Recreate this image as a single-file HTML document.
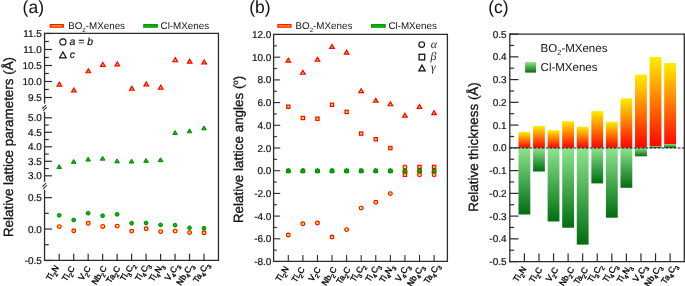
<!DOCTYPE html>
<html><head><meta charset="utf-8"><style>
html,body{margin:0;padding:0;background:#fff;}
svg{display:block;will-change:transform;}
text{text-rendering:geometricPrecision;}
</style></head><body>
<svg xmlns="http://www.w3.org/2000/svg" width="685" height="286" viewBox="0 0 685 286">
<rect width="685" height="286" fill="#fff"/>
<g fill="#111">
<text x="22.60" y="12.90" font-size="17.5" text-anchor="start" font-family='"Liberation Sans", sans-serif'  >(a)</text>
<text transform="translate(13.4,147) rotate(-90)" font-size="13.4" text-anchor="middle" stroke="#111" stroke-width="0.3" font-family='"Liberation Sans", sans-serif'>Relative lattice parameters (Å)</text>
<line x1="44.55" y1="33.40" x2="218.45" y2="33.40" stroke="#2b2b2b" stroke-width="1.3" />
<line x1="218.45" y1="32.75" x2="218.45" y2="261.00" stroke="#2b2b2b" stroke-width="1.3" />
<line x1="43.90" y1="260.35" x2="218.45" y2="260.35" stroke="#2b2b2b" stroke-width="1.3" />
<line x1="44.55" y1="32.75" x2="44.55" y2="103.60" stroke="#2b2b2b" stroke-width="1.3" />
<line x1="44.55" y1="111.60" x2="44.55" y2="181.80" stroke="#2b2b2b" stroke-width="1.3" />
<line x1="44.55" y1="189.80" x2="44.55" y2="261.00" stroke="#2b2b2b" stroke-width="1.3" />
<line x1="42.30" y1="108.50" x2="46.10" y2="105.10" stroke="#2b2b2b" stroke-width="1.1" />
<line x1="43.00" y1="110.70" x2="46.80" y2="107.30" stroke="#2b2b2b" stroke-width="1.1" />
<line x1="42.30" y1="186.60" x2="46.10" y2="183.20" stroke="#2b2b2b" stroke-width="1.1" />
<line x1="43.00" y1="188.80" x2="46.80" y2="185.40" stroke="#2b2b2b" stroke-width="1.1" />
<line x1="44.55" y1="33.50" x2="51.95" y2="33.50" stroke="#2b2b2b" stroke-width="1.2" />
<text x="41.95" y="37.00" font-size="10" text-anchor="end" stroke="#111" stroke-width="0.2" font-family='"Liberation Sans", sans-serif'>11.5</text>
<line x1="44.55" y1="41.50" x2="48.75" y2="41.50" stroke="#2b2b2b" stroke-width="1.2" />
<line x1="44.55" y1="49.50" x2="51.95" y2="49.50" stroke="#2b2b2b" stroke-width="1.2" />
<text x="41.95" y="53.00" font-size="10" text-anchor="end" stroke="#111" stroke-width="0.2" font-family='"Liberation Sans", sans-serif'>11.0</text>
<line x1="44.55" y1="57.50" x2="48.75" y2="57.50" stroke="#2b2b2b" stroke-width="1.2" />
<line x1="44.55" y1="65.50" x2="51.95" y2="65.50" stroke="#2b2b2b" stroke-width="1.2" />
<text x="41.95" y="69.00" font-size="10" text-anchor="end" stroke="#111" stroke-width="0.2" font-family='"Liberation Sans", sans-serif'>10.5</text>
<line x1="44.55" y1="73.50" x2="48.75" y2="73.50" stroke="#2b2b2b" stroke-width="1.2" />
<line x1="44.55" y1="81.50" x2="51.95" y2="81.50" stroke="#2b2b2b" stroke-width="1.2" />
<text x="41.95" y="85.00" font-size="10" text-anchor="end" stroke="#111" stroke-width="0.2" font-family='"Liberation Sans", sans-serif'>10.0</text>
<line x1="44.55" y1="89.50" x2="48.75" y2="89.50" stroke="#2b2b2b" stroke-width="1.2" />
<line x1="44.55" y1="97.50" x2="51.95" y2="97.50" stroke="#2b2b2b" stroke-width="1.2" />
<text x="41.95" y="101.00" font-size="10" text-anchor="end" stroke="#111" stroke-width="0.2" font-family='"Liberation Sans", sans-serif'>9.5</text>
<line x1="44.55" y1="117.80" x2="51.95" y2="117.80" stroke="#2b2b2b" stroke-width="1.2" />
<text x="41.95" y="121.30" font-size="10" text-anchor="end" stroke="#111" stroke-width="0.2" font-family='"Liberation Sans", sans-serif'>5.0</text>
<line x1="44.55" y1="125.05" x2="48.75" y2="125.05" stroke="#2b2b2b" stroke-width="1.2" />
<line x1="44.55" y1="132.30" x2="51.95" y2="132.30" stroke="#2b2b2b" stroke-width="1.2" />
<text x="41.95" y="135.80" font-size="10" text-anchor="end" stroke="#111" stroke-width="0.2" font-family='"Liberation Sans", sans-serif'>4.5</text>
<line x1="44.55" y1="139.55" x2="48.75" y2="139.55" stroke="#2b2b2b" stroke-width="1.2" />
<line x1="44.55" y1="146.80" x2="51.95" y2="146.80" stroke="#2b2b2b" stroke-width="1.2" />
<text x="41.95" y="150.30" font-size="10" text-anchor="end" stroke="#111" stroke-width="0.2" font-family='"Liberation Sans", sans-serif'>4.0</text>
<line x1="44.55" y1="154.05" x2="48.75" y2="154.05" stroke="#2b2b2b" stroke-width="1.2" />
<line x1="44.55" y1="161.30" x2="51.95" y2="161.30" stroke="#2b2b2b" stroke-width="1.2" />
<text x="41.95" y="164.80" font-size="10" text-anchor="end" stroke="#111" stroke-width="0.2" font-family='"Liberation Sans", sans-serif'>3.5</text>
<line x1="44.55" y1="168.55" x2="48.75" y2="168.55" stroke="#2b2b2b" stroke-width="1.2" />
<line x1="44.55" y1="175.80" x2="51.95" y2="175.80" stroke="#2b2b2b" stroke-width="1.2" />
<text x="41.95" y="179.30" font-size="10" text-anchor="end" stroke="#111" stroke-width="0.2" font-family='"Liberation Sans", sans-serif'>3.0</text>
<line x1="44.55" y1="197.60" x2="51.95" y2="197.60" stroke="#2b2b2b" stroke-width="1.2" />
<text x="41.95" y="201.10" font-size="10" text-anchor="end" stroke="#111" stroke-width="0.2" font-family='"Liberation Sans", sans-serif'>0.5</text>
<line x1="44.55" y1="213.32" x2="48.75" y2="213.32" stroke="#2b2b2b" stroke-width="1.2" />
<line x1="44.55" y1="229.05" x2="51.95" y2="229.05" stroke="#2b2b2b" stroke-width="1.2" />
<text x="41.95" y="232.55" font-size="10" text-anchor="end" stroke="#111" stroke-width="0.2" font-family='"Liberation Sans", sans-serif'>0.0</text>
<line x1="44.55" y1="244.77" x2="48.75" y2="244.77" stroke="#2b2b2b" stroke-width="1.2" />
<line x1="44.55" y1="260.50" x2="51.95" y2="260.50" stroke="#2b2b2b" stroke-width="1.2" />
<text x="41.95" y="264.00" font-size="10" text-anchor="end" stroke="#111" stroke-width="0.2" font-family='"Liberation Sans", sans-serif'>-0.5</text>
<line x1="59.20" y1="260.35" x2="59.20" y2="253.75" stroke="#2b2b2b" stroke-width="1.2" />
<line x1="73.68" y1="260.35" x2="73.68" y2="253.75" stroke="#2b2b2b" stroke-width="1.2" />
<line x1="88.16" y1="260.35" x2="88.16" y2="253.75" stroke="#2b2b2b" stroke-width="1.2" />
<line x1="102.64" y1="260.35" x2="102.64" y2="253.75" stroke="#2b2b2b" stroke-width="1.2" />
<line x1="117.12" y1="260.35" x2="117.12" y2="253.75" stroke="#2b2b2b" stroke-width="1.2" />
<line x1="131.60" y1="260.35" x2="131.60" y2="253.75" stroke="#2b2b2b" stroke-width="1.2" />
<line x1="146.08" y1="260.35" x2="146.08" y2="253.75" stroke="#2b2b2b" stroke-width="1.2" />
<line x1="160.56" y1="260.35" x2="160.56" y2="253.75" stroke="#2b2b2b" stroke-width="1.2" />
<line x1="175.04" y1="260.35" x2="175.04" y2="253.75" stroke="#2b2b2b" stroke-width="1.2" />
<line x1="189.52" y1="260.35" x2="189.52" y2="253.75" stroke="#2b2b2b" stroke-width="1.2" />
<line x1="204.00" y1="260.35" x2="204.00" y2="253.75" stroke="#2b2b2b" stroke-width="1.2" />
<text transform="translate(59.30,267.60) rotate(-57)" font-size="8.5" text-anchor="end" fill="#000" stroke="#000" stroke-width="0.3" font-family='"Liberation Sans", sans-serif'>Ti<tspan font-size="6.12" dy="2.72">2</tspan><tspan dy="-2.72">N</tspan></text>
<text transform="translate(75.18,268.30) rotate(-57)" font-size="8.5" text-anchor="end" fill="#000" stroke="#000" stroke-width="0.3" font-family='"Liberation Sans", sans-serif'>Ti<tspan font-size="6.12" dy="2.72">2</tspan><tspan dy="-2.72">C</tspan></text>
<text transform="translate(91.11,268.30) rotate(-57)" font-size="8.5" text-anchor="end" fill="#000" stroke="#000" stroke-width="0.3" font-family='"Liberation Sans", sans-serif'>V<tspan font-size="6.12" dy="2.72">2</tspan><tspan dy="-2.72">C</tspan></text>
<text transform="translate(107.09,268.20) rotate(-57)" font-size="8.5" text-anchor="end" fill="#000" stroke="#000" stroke-width="0.3" font-family='"Liberation Sans", sans-serif'>Nb<tspan font-size="6.12" dy="2.72">2</tspan><tspan dy="-2.72">C</tspan></text>
<text transform="translate(120.67,268.30) rotate(-57)" font-size="8.5" text-anchor="end" fill="#000" stroke="#000" stroke-width="0.3" font-family='"Liberation Sans", sans-serif'>Ta<tspan font-size="6.12" dy="2.72">2</tspan><tspan dy="-2.72">C</tspan></text>
<text transform="translate(135.20,265.10) rotate(-57)" font-size="8.5" text-anchor="end" fill="#000" stroke="#000" stroke-width="0.3" font-family='"Liberation Sans", sans-serif'>Ti<tspan font-size="6.12" dy="2.72">3</tspan><tspan dy="-2.72">C</tspan><tspan font-size="6.12" dy="2.72">2</tspan></text>
<text transform="translate(150.13,265.10) rotate(-57)" font-size="8.5" text-anchor="end" fill="#000" stroke="#000" stroke-width="0.3" font-family='"Liberation Sans", sans-serif'>Ti<tspan font-size="6.12" dy="2.72">4</tspan><tspan dy="-2.72">C</tspan><tspan font-size="6.12" dy="2.72">3</tspan></text>
<text transform="translate(164.11,265.80) rotate(-57)" font-size="8.5" text-anchor="end" fill="#000" stroke="#000" stroke-width="0.3" font-family='"Liberation Sans", sans-serif'>Ti<tspan font-size="6.12" dy="2.72">4</tspan><tspan dy="-2.72">N</tspan><tspan font-size="6.12" dy="2.72">3</tspan></text>
<text transform="translate(179.49,265.65) rotate(-57)" font-size="8.5" text-anchor="end" fill="#000" stroke="#000" stroke-width="0.3" font-family='"Liberation Sans", sans-serif'>V<tspan font-size="6.12" dy="2.72">4</tspan><tspan dy="-2.72">C</tspan><tspan font-size="6.12" dy="2.72">3</tspan></text>
<text transform="translate(193.82,265.95) rotate(-57)" font-size="8.5" text-anchor="end" fill="#000" stroke="#000" stroke-width="0.3" font-family='"Liberation Sans", sans-serif'>Nb<tspan font-size="6.12" dy="2.72">4</tspan><tspan dy="-2.72">C</tspan><tspan font-size="6.12" dy="2.72">3</tspan></text>
<text transform="translate(209.45,264.85) rotate(-57)" font-size="8.5" text-anchor="end" fill="#000" stroke="#000" stroke-width="0.3" font-family='"Liberation Sans", sans-serif'>Ta<tspan font-size="6.12" dy="2.72">4</tspan><tspan dy="-2.72">C</tspan><tspan font-size="6.12" dy="2.72">3</tspan></text>
<rect x="50.20" y="24.6" width="13.2" height="2.6" fill="#ff9900" stroke="#ff0000" stroke-width="1"/>
<text x="68.20" y="28.90" font-size="9.8" text-anchor="start" font-family='"Liberation Sans", sans-serif'  >BO<tspan font-size="6.2" dy="2.6">2</tspan><tspan dy="-2.6">-MXenes</tspan></text>
<rect x="143.70" y="24.6" width="13.6" height="2.6" fill="#00c000" stroke="#008a00" stroke-width="1"/>
<text x="160.60" y="28.90" font-size="9.8" text-anchor="start" font-family='"Liberation Sans", sans-serif'  >Cl-MXenes</text>
<circle cx="62.90" cy="41.90" r="3.05" fill="none" stroke="#111" stroke-width="1.1"/>
<text x="69.60" y="44.70" font-size="10.4" text-anchor="start" font-family='"Liberation Sans", sans-serif' font-style="italic" stroke="#111" stroke-width="0.2" >a = b</text>
<polygon points="62.90,51.90 66.20,57.90 59.60,57.90" fill="none" stroke="#111" stroke-width="1.15" stroke-linejoin="miter"/>
<text x="69.80" y="58.20" font-size="10.4" text-anchor="start" font-family='"Liberation Sans", sans-serif' font-style="italic" stroke="#111" stroke-width="0.2" >c</text>
<polygon points="59.40,82.25 61.70,86.15 57.10,86.15" fill="#ffc800" stroke="#ff0000" stroke-width="1.2" stroke-linejoin="miter"/>
<polygon points="73.88,88.05 76.18,91.95 71.58,91.95" fill="#ffc800" stroke="#ff0000" stroke-width="1.2" stroke-linejoin="miter"/>
<polygon points="88.36,68.85 90.66,72.75 86.06,72.75" fill="#ffc800" stroke="#ff0000" stroke-width="1.2" stroke-linejoin="miter"/>
<polygon points="102.84,62.45 105.14,66.35 100.54,66.35" fill="#ffc800" stroke="#ff0000" stroke-width="1.2" stroke-linejoin="miter"/>
<polygon points="117.32,62.05 119.62,65.95 115.02,65.95" fill="#ffc800" stroke="#ff0000" stroke-width="1.2" stroke-linejoin="miter"/>
<polygon points="131.80,86.35 134.10,90.25 129.50,90.25" fill="#ffc800" stroke="#ff0000" stroke-width="1.2" stroke-linejoin="miter"/>
<polygon points="146.28,81.95 148.58,85.85 143.98,85.85" fill="#ffc800" stroke="#ff0000" stroke-width="1.2" stroke-linejoin="miter"/>
<polygon points="160.76,85.15 163.06,89.05 158.46,89.05" fill="#ffc800" stroke="#ff0000" stroke-width="1.2" stroke-linejoin="miter"/>
<polygon points="175.24,57.65 177.54,61.55 172.94,61.55" fill="#ffc800" stroke="#ff0000" stroke-width="1.2" stroke-linejoin="miter"/>
<polygon points="189.72,59.25 192.02,63.15 187.42,63.15" fill="#ffc800" stroke="#ff0000" stroke-width="1.2" stroke-linejoin="miter"/>
<polygon points="204.20,59.95 206.50,63.85 201.90,63.85" fill="#ffc800" stroke="#ff0000" stroke-width="1.2" stroke-linejoin="miter"/>
<polygon points="59.20,164.55 61.50,168.45 56.90,168.45" fill="#00c000" stroke="#008a00" stroke-width="1.0" stroke-linejoin="miter"/>
<polygon points="73.68,159.45 75.98,163.35 71.38,163.35" fill="#00c000" stroke="#008a00" stroke-width="1.0" stroke-linejoin="miter"/>
<polygon points="88.16,157.15 90.46,161.05 85.86,161.05" fill="#00c000" stroke="#008a00" stroke-width="1.0" stroke-linejoin="miter"/>
<polygon points="102.64,156.25 104.94,160.15 100.34,160.15" fill="#00c000" stroke="#008a00" stroke-width="1.0" stroke-linejoin="miter"/>
<polygon points="117.12,158.95 119.42,162.85 114.82,162.85" fill="#00c000" stroke="#008a00" stroke-width="1.0" stroke-linejoin="miter"/>
<polygon points="131.60,159.15 133.90,163.05 129.30,163.05" fill="#00c000" stroke="#008a00" stroke-width="1.0" stroke-linejoin="miter"/>
<polygon points="146.08,158.45 148.38,162.35 143.78,162.35" fill="#00c000" stroke="#008a00" stroke-width="1.0" stroke-linejoin="miter"/>
<polygon points="160.56,157.75 162.86,161.65 158.26,161.65" fill="#00c000" stroke="#008a00" stroke-width="1.0" stroke-linejoin="miter"/>
<polygon points="175.04,130.55 177.34,134.45 172.74,134.45" fill="#00c000" stroke="#008a00" stroke-width="1.0" stroke-linejoin="miter"/>
<polygon points="189.52,128.85 191.82,132.75 187.22,132.75" fill="#00c000" stroke="#008a00" stroke-width="1.0" stroke-linejoin="miter"/>
<polygon points="204.00,125.95 206.30,129.85 201.70,129.85" fill="#00c000" stroke="#008a00" stroke-width="1.0" stroke-linejoin="miter"/>
<circle cx="59.20" cy="215.30" r="1.9" fill="#00c000" stroke="#008a00" stroke-width="1.0"/>
<circle cx="73.68" cy="220.00" r="1.9" fill="#00c000" stroke="#008a00" stroke-width="1.0"/>
<circle cx="88.16" cy="213.20" r="1.9" fill="#00c000" stroke="#008a00" stroke-width="1.0"/>
<circle cx="102.64" cy="215.70" r="1.9" fill="#00c000" stroke="#008a00" stroke-width="1.0"/>
<circle cx="117.12" cy="214.30" r="1.9" fill="#00c000" stroke="#008a00" stroke-width="1.0"/>
<circle cx="131.60" cy="223.30" r="1.9" fill="#00c000" stroke="#008a00" stroke-width="1.0"/>
<circle cx="146.08" cy="223.00" r="1.9" fill="#00c000" stroke="#008a00" stroke-width="1.0"/>
<circle cx="160.56" cy="224.90" r="1.9" fill="#00c000" stroke="#008a00" stroke-width="1.0"/>
<circle cx="175.04" cy="225.20" r="1.9" fill="#00c000" stroke="#008a00" stroke-width="1.0"/>
<circle cx="189.52" cy="227.80" r="1.9" fill="#00c000" stroke="#008a00" stroke-width="1.0"/>
<circle cx="204.00" cy="228.20" r="1.9" fill="#00c000" stroke="#008a00" stroke-width="1.0"/>
<circle cx="59.30" cy="226.60" r="1.9" fill="#ffee00" stroke="#ff0000" stroke-width="1.15"/>
<circle cx="73.78" cy="230.70" r="1.9" fill="#ffee00" stroke="#ff0000" stroke-width="1.15"/>
<circle cx="88.26" cy="223.30" r="1.9" fill="#ffee00" stroke="#ff0000" stroke-width="1.15"/>
<circle cx="102.74" cy="226.40" r="1.9" fill="#ffee00" stroke="#ff0000" stroke-width="1.15"/>
<circle cx="117.22" cy="226.10" r="1.9" fill="#ffee00" stroke="#ff0000" stroke-width="1.15"/>
<circle cx="131.70" cy="231.10" r="1.9" fill="#ffee00" stroke="#ff0000" stroke-width="1.15"/>
<circle cx="146.18" cy="228.80" r="1.9" fill="#ffee00" stroke="#ff0000" stroke-width="1.15"/>
<circle cx="160.66" cy="231.60" r="1.9" fill="#ffee00" stroke="#ff0000" stroke-width="1.15"/>
<circle cx="175.14" cy="231.10" r="1.9" fill="#ffee00" stroke="#ff0000" stroke-width="1.15"/>
<circle cx="189.62" cy="232.60" r="1.9" fill="#ffee00" stroke="#ff0000" stroke-width="1.15"/>
<circle cx="204.10" cy="232.70" r="1.9" fill="#ffee00" stroke="#ff0000" stroke-width="1.15"/>
<text x="249.30" y="12.90" font-size="17.5" text-anchor="start" font-family='"Liberation Sans", sans-serif'  >(b)</text>
<text transform="translate(242.6,149.4) rotate(-90)" font-size="13.4" text-anchor="middle" stroke="#111" stroke-width="0.3" font-family='"Liberation Sans", sans-serif'>Relative lattice angles (<tspan font-size="8" dy="-4.5">o</tspan><tspan dy="4.5">)</tspan></text>
<line x1="273.60" y1="34.40" x2="447.40" y2="34.40" stroke="#2b2b2b" stroke-width="1.3" />
<line x1="447.40" y1="33.75" x2="447.40" y2="261.95" stroke="#2b2b2b" stroke-width="1.3" />
<line x1="272.95" y1="261.30" x2="447.40" y2="261.30" stroke="#2b2b2b" stroke-width="1.3" />
<line x1="273.60" y1="33.75" x2="273.60" y2="261.95" stroke="#2b2b2b" stroke-width="1.3" />
<line x1="273.60" y1="34.50" x2="280.20" y2="34.50" stroke="#2b2b2b" stroke-width="1.1" />
<text x="271.40" y="38.00" font-size="10" text-anchor="end" stroke="#111" stroke-width="0.2" font-family='"Liberation Sans", sans-serif'>12.0</text>
<line x1="273.60" y1="45.85" x2="276.90" y2="45.85" stroke="#2b2b2b" stroke-width="1.1" />
<line x1="273.60" y1="57.20" x2="280.20" y2="57.20" stroke="#2b2b2b" stroke-width="1.1" />
<text x="271.40" y="60.70" font-size="10" text-anchor="end" stroke="#111" stroke-width="0.2" font-family='"Liberation Sans", sans-serif'>10.0</text>
<line x1="273.60" y1="68.55" x2="276.90" y2="68.55" stroke="#2b2b2b" stroke-width="1.1" />
<line x1="273.60" y1="79.90" x2="280.20" y2="79.90" stroke="#2b2b2b" stroke-width="1.1" />
<text x="271.40" y="83.40" font-size="10" text-anchor="end" stroke="#111" stroke-width="0.2" font-family='"Liberation Sans", sans-serif'>8.0</text>
<line x1="273.60" y1="91.25" x2="276.90" y2="91.25" stroke="#2b2b2b" stroke-width="1.1" />
<line x1="273.60" y1="102.60" x2="280.20" y2="102.60" stroke="#2b2b2b" stroke-width="1.1" />
<text x="271.40" y="106.10" font-size="10" text-anchor="end" stroke="#111" stroke-width="0.2" font-family='"Liberation Sans", sans-serif'>6.0</text>
<line x1="273.60" y1="113.95" x2="276.90" y2="113.95" stroke="#2b2b2b" stroke-width="1.1" />
<line x1="273.60" y1="125.30" x2="280.20" y2="125.30" stroke="#2b2b2b" stroke-width="1.1" />
<text x="271.40" y="128.80" font-size="10" text-anchor="end" stroke="#111" stroke-width="0.2" font-family='"Liberation Sans", sans-serif'>4.0</text>
<line x1="273.60" y1="136.65" x2="276.90" y2="136.65" stroke="#2b2b2b" stroke-width="1.1" />
<line x1="273.60" y1="148.00" x2="280.20" y2="148.00" stroke="#2b2b2b" stroke-width="1.1" />
<text x="271.40" y="151.50" font-size="10" text-anchor="end" stroke="#111" stroke-width="0.2" font-family='"Liberation Sans", sans-serif'>2.0</text>
<line x1="273.60" y1="159.35" x2="276.90" y2="159.35" stroke="#2b2b2b" stroke-width="1.1" />
<line x1="273.60" y1="170.70" x2="280.20" y2="170.70" stroke="#2b2b2b" stroke-width="1.1" />
<text x="271.40" y="174.20" font-size="10" text-anchor="end" stroke="#111" stroke-width="0.2" font-family='"Liberation Sans", sans-serif'>0.0</text>
<line x1="273.60" y1="182.05" x2="276.90" y2="182.05" stroke="#2b2b2b" stroke-width="1.1" />
<line x1="273.60" y1="193.40" x2="280.20" y2="193.40" stroke="#2b2b2b" stroke-width="1.1" />
<text x="271.40" y="196.90" font-size="10" text-anchor="end" stroke="#111" stroke-width="0.2" font-family='"Liberation Sans", sans-serif'>-2.0</text>
<line x1="273.60" y1="204.75" x2="276.90" y2="204.75" stroke="#2b2b2b" stroke-width="1.1" />
<line x1="273.60" y1="216.10" x2="280.20" y2="216.10" stroke="#2b2b2b" stroke-width="1.1" />
<text x="271.40" y="219.60" font-size="10" text-anchor="end" stroke="#111" stroke-width="0.2" font-family='"Liberation Sans", sans-serif'>-4.0</text>
<line x1="273.60" y1="227.45" x2="276.90" y2="227.45" stroke="#2b2b2b" stroke-width="1.1" />
<line x1="273.60" y1="238.80" x2="280.20" y2="238.80" stroke="#2b2b2b" stroke-width="1.1" />
<text x="271.40" y="242.30" font-size="10" text-anchor="end" stroke="#111" stroke-width="0.2" font-family='"Liberation Sans", sans-serif'>-6.0</text>
<line x1="273.60" y1="250.15" x2="276.90" y2="250.15" stroke="#2b2b2b" stroke-width="1.1" />
<line x1="273.60" y1="261.50" x2="280.20" y2="261.50" stroke="#2b2b2b" stroke-width="1.1" />
<text x="271.40" y="265.00" font-size="10" text-anchor="end" stroke="#111" stroke-width="0.2" font-family='"Liberation Sans", sans-serif'>-8.0</text>
<line x1="288.30" y1="261.30" x2="288.30" y2="255.00" stroke="#2b2b2b" stroke-width="1.1" />
<line x1="302.88" y1="261.30" x2="302.88" y2="255.00" stroke="#2b2b2b" stroke-width="1.1" />
<line x1="317.46" y1="261.30" x2="317.46" y2="255.00" stroke="#2b2b2b" stroke-width="1.1" />
<line x1="332.04" y1="261.30" x2="332.04" y2="255.00" stroke="#2b2b2b" stroke-width="1.1" />
<line x1="346.62" y1="261.30" x2="346.62" y2="255.00" stroke="#2b2b2b" stroke-width="1.1" />
<line x1="361.20" y1="261.30" x2="361.20" y2="255.00" stroke="#2b2b2b" stroke-width="1.1" />
<line x1="375.78" y1="261.30" x2="375.78" y2="255.00" stroke="#2b2b2b" stroke-width="1.1" />
<line x1="390.36" y1="261.30" x2="390.36" y2="255.00" stroke="#2b2b2b" stroke-width="1.1" />
<line x1="404.94" y1="261.30" x2="404.94" y2="255.00" stroke="#2b2b2b" stroke-width="1.1" />
<line x1="419.52" y1="261.30" x2="419.52" y2="255.00" stroke="#2b2b2b" stroke-width="1.1" />
<line x1="434.10" y1="261.30" x2="434.10" y2="255.00" stroke="#2b2b2b" stroke-width="1.1" />
<text transform="translate(289.00,268.55) rotate(-57)" font-size="8.5" text-anchor="end" fill="#000" stroke="#000" stroke-width="0.3" font-family='"Liberation Sans", sans-serif'>Ti<tspan font-size="6.12" dy="2.72">2</tspan><tspan dy="-2.72">N</tspan></text>
<text transform="translate(304.98,269.25) rotate(-57)" font-size="8.5" text-anchor="end" fill="#000" stroke="#000" stroke-width="0.3" font-family='"Liberation Sans", sans-serif'>Ti<tspan font-size="6.12" dy="2.72">2</tspan><tspan dy="-2.72">C</tspan></text>
<text transform="translate(321.01,269.25) rotate(-57)" font-size="8.5" text-anchor="end" fill="#000" stroke="#000" stroke-width="0.3" font-family='"Liberation Sans", sans-serif'>V<tspan font-size="6.12" dy="2.72">2</tspan><tspan dy="-2.72">C</tspan></text>
<text transform="translate(337.09,269.15) rotate(-57)" font-size="8.5" text-anchor="end" fill="#000" stroke="#000" stroke-width="0.3" font-family='"Liberation Sans", sans-serif'>Nb<tspan font-size="6.12" dy="2.72">2</tspan><tspan dy="-2.72">C</tspan></text>
<text transform="translate(350.77,269.25) rotate(-57)" font-size="8.5" text-anchor="end" fill="#000" stroke="#000" stroke-width="0.3" font-family='"Liberation Sans", sans-serif'>Ta<tspan font-size="6.12" dy="2.72">2</tspan><tspan dy="-2.72">C</tspan></text>
<text transform="translate(365.40,266.05) rotate(-57)" font-size="8.5" text-anchor="end" fill="#000" stroke="#000" stroke-width="0.3" font-family='"Liberation Sans", sans-serif'>Ti<tspan font-size="6.12" dy="2.72">3</tspan><tspan dy="-2.72">C</tspan><tspan font-size="6.12" dy="2.72">2</tspan></text>
<text transform="translate(380.43,266.05) rotate(-57)" font-size="8.5" text-anchor="end" fill="#000" stroke="#000" stroke-width="0.3" font-family='"Liberation Sans", sans-serif'>Ti<tspan font-size="6.12" dy="2.72">4</tspan><tspan dy="-2.72">C</tspan><tspan font-size="6.12" dy="2.72">3</tspan></text>
<text transform="translate(394.51,266.75) rotate(-57)" font-size="8.5" text-anchor="end" fill="#000" stroke="#000" stroke-width="0.3" font-family='"Liberation Sans", sans-serif'>Ti<tspan font-size="6.12" dy="2.72">4</tspan><tspan dy="-2.72">N</tspan><tspan font-size="6.12" dy="2.72">3</tspan></text>
<text transform="translate(409.99,266.60) rotate(-57)" font-size="8.5" text-anchor="end" fill="#000" stroke="#000" stroke-width="0.3" font-family='"Liberation Sans", sans-serif'>V<tspan font-size="6.12" dy="2.72">4</tspan><tspan dy="-2.72">C</tspan><tspan font-size="6.12" dy="2.72">3</tspan></text>
<text transform="translate(424.42,266.90) rotate(-57)" font-size="8.5" text-anchor="end" fill="#000" stroke="#000" stroke-width="0.3" font-family='"Liberation Sans", sans-serif'>Nb<tspan font-size="6.12" dy="2.72">4</tspan><tspan dy="-2.72">C</tspan><tspan font-size="6.12" dy="2.72">3</tspan></text>
<text transform="translate(440.15,265.80) rotate(-57)" font-size="8.5" text-anchor="end" fill="#000" stroke="#000" stroke-width="0.3" font-family='"Liberation Sans", sans-serif'>Ta<tspan font-size="6.12" dy="2.72">4</tspan><tspan dy="-2.72">C</tspan><tspan font-size="6.12" dy="2.72">3</tspan></text>
<rect x="277.80" y="24.6" width="13.2" height="2.6" fill="#ff9900" stroke="#ff0000" stroke-width="1"/>
<text x="295.50" y="28.90" font-size="9.8" text-anchor="start" font-family='"Liberation Sans", sans-serif'  >BO<tspan font-size="6.2" dy="2.6">2</tspan><tspan dy="-2.6">-MXenes</tspan></text>
<rect x="371.60" y="24.6" width="13.6" height="2.6" fill="#00c000" stroke="#008a00" stroke-width="1"/>
<text x="388.40" y="28.90" font-size="9.8" text-anchor="start" font-family='"Liberation Sans", sans-serif'  >Cl-MXenes</text>
<circle cx="421.70" cy="44.60" r="2.85" fill="none" stroke="#111" stroke-width="1.2"/>
<rect x="419.10" y="54.30" width="5.6" height="5.6" fill="none" stroke="#111" stroke-width="1.25"/>
<polygon points="422.00,65.15 425.10,70.85 418.90,70.85" fill="none" stroke="#111" stroke-width="1.25" stroke-linejoin="miter"/>
<text x="430.80" y="48.00" font-size="11.8" text-anchor="start" font-family='"Liberation Serif", serif' font-style="italic" fill="#222" >α</text>
<text x="430.60" y="59.80" font-size="11.8" text-anchor="start" font-family='"Liberation Serif", serif' font-style="italic" fill="#222" >β</text>
<text x="430.90" y="71.20" font-size="11.8" text-anchor="start" font-family='"Liberation Serif", serif' font-style="italic" fill="#222" >γ</text>
<rect x="286.60" y="169.20" width="3.4" height="3.4" fill="#00c000" stroke="#008a00" stroke-width="1.0"/>
<circle cx="288.30" cy="171.10" r="1.85" fill="#00c000" stroke="#008a00" stroke-width="1.0"/>
<polygon points="288.30,168.25 290.60,172.15 286.00,172.15" fill="#00c000" stroke="#008a00" stroke-width="1.0" stroke-linejoin="miter"/>
<rect x="301.18" y="169.20" width="3.4" height="3.4" fill="#00c000" stroke="#008a00" stroke-width="1.0"/>
<circle cx="302.88" cy="171.10" r="1.85" fill="#00c000" stroke="#008a00" stroke-width="1.0"/>
<polygon points="302.88,168.25 305.18,172.15 300.58,172.15" fill="#00c000" stroke="#008a00" stroke-width="1.0" stroke-linejoin="miter"/>
<rect x="315.76" y="169.20" width="3.4" height="3.4" fill="#00c000" stroke="#008a00" stroke-width="1.0"/>
<circle cx="317.46" cy="171.10" r="1.85" fill="#00c000" stroke="#008a00" stroke-width="1.0"/>
<polygon points="317.46,168.25 319.76,172.15 315.16,172.15" fill="#00c000" stroke="#008a00" stroke-width="1.0" stroke-linejoin="miter"/>
<rect x="330.34" y="169.20" width="3.4" height="3.4" fill="#00c000" stroke="#008a00" stroke-width="1.0"/>
<circle cx="332.04" cy="171.10" r="1.85" fill="#00c000" stroke="#008a00" stroke-width="1.0"/>
<polygon points="332.04,168.25 334.34,172.15 329.74,172.15" fill="#00c000" stroke="#008a00" stroke-width="1.0" stroke-linejoin="miter"/>
<rect x="344.92" y="169.20" width="3.4" height="3.4" fill="#00c000" stroke="#008a00" stroke-width="1.0"/>
<circle cx="346.62" cy="171.10" r="1.85" fill="#00c000" stroke="#008a00" stroke-width="1.0"/>
<polygon points="346.62,168.25 348.92,172.15 344.32,172.15" fill="#00c000" stroke="#008a00" stroke-width="1.0" stroke-linejoin="miter"/>
<rect x="359.50" y="169.20" width="3.4" height="3.4" fill="#00c000" stroke="#008a00" stroke-width="1.0"/>
<circle cx="361.20" cy="171.10" r="1.85" fill="#00c000" stroke="#008a00" stroke-width="1.0"/>
<polygon points="361.20,168.25 363.50,172.15 358.90,172.15" fill="#00c000" stroke="#008a00" stroke-width="1.0" stroke-linejoin="miter"/>
<rect x="374.08" y="169.20" width="3.4" height="3.4" fill="#00c000" stroke="#008a00" stroke-width="1.0"/>
<circle cx="375.78" cy="171.10" r="1.85" fill="#00c000" stroke="#008a00" stroke-width="1.0"/>
<polygon points="375.78,168.25 378.08,172.15 373.48,172.15" fill="#00c000" stroke="#008a00" stroke-width="1.0" stroke-linejoin="miter"/>
<rect x="388.66" y="169.20" width="3.4" height="3.4" fill="#00c000" stroke="#008a00" stroke-width="1.0"/>
<circle cx="390.36" cy="171.10" r="1.85" fill="#00c000" stroke="#008a00" stroke-width="1.0"/>
<polygon points="390.36,168.25 392.66,172.15 388.06,172.15" fill="#00c000" stroke="#008a00" stroke-width="1.0" stroke-linejoin="miter"/>
<rect x="403.24" y="169.20" width="3.4" height="3.4" fill="#00c000" stroke="#008a00" stroke-width="1.0"/>
<circle cx="404.94" cy="171.10" r="1.85" fill="#00c000" stroke="#008a00" stroke-width="1.0"/>
<polygon points="404.94,168.25 407.24,172.15 402.64,172.15" fill="#00c000" stroke="#008a00" stroke-width="1.0" stroke-linejoin="miter"/>
<rect x="417.82" y="169.20" width="3.4" height="3.4" fill="#00c000" stroke="#008a00" stroke-width="1.0"/>
<circle cx="419.52" cy="171.10" r="1.85" fill="#00c000" stroke="#008a00" stroke-width="1.0"/>
<polygon points="419.52,168.25 421.82,172.15 417.22,172.15" fill="#00c000" stroke="#008a00" stroke-width="1.0" stroke-linejoin="miter"/>
<rect x="432.40" y="169.20" width="3.4" height="3.4" fill="#00c000" stroke="#008a00" stroke-width="1.0"/>
<circle cx="434.10" cy="171.10" r="1.85" fill="#00c000" stroke="#008a00" stroke-width="1.0"/>
<polygon points="434.10,168.25 436.40,172.15 431.80,172.15" fill="#00c000" stroke="#008a00" stroke-width="1.0" stroke-linejoin="miter"/>
<polygon points="288.30,58.25 290.60,62.15 286.00,62.15" fill="#ffc800" stroke="#ff0000" stroke-width="1.2" stroke-linejoin="miter"/>
<polygon points="302.88,70.35 305.18,74.25 300.58,74.25" fill="#ffc800" stroke="#ff0000" stroke-width="1.2" stroke-linejoin="miter"/>
<polygon points="317.46,57.35 319.76,61.25 315.16,61.25" fill="#ffc800" stroke="#ff0000" stroke-width="1.2" stroke-linejoin="miter"/>
<polygon points="332.04,44.55 334.34,48.45 329.74,48.45" fill="#ffc800" stroke="#ff0000" stroke-width="1.2" stroke-linejoin="miter"/>
<polygon points="346.62,50.25 348.92,54.15 344.32,54.15" fill="#ffc800" stroke="#ff0000" stroke-width="1.2" stroke-linejoin="miter"/>
<polygon points="361.20,88.75 363.50,92.65 358.90,92.65" fill="#ffc800" stroke="#ff0000" stroke-width="1.2" stroke-linejoin="miter"/>
<polygon points="375.78,98.35 378.08,102.25 373.48,102.25" fill="#ffc800" stroke="#ff0000" stroke-width="1.2" stroke-linejoin="miter"/>
<polygon points="390.36,101.85 392.66,105.75 388.06,105.75" fill="#ffc800" stroke="#ff0000" stroke-width="1.2" stroke-linejoin="miter"/>
<polygon points="404.94,113.25 407.24,117.15 402.64,117.15" fill="#ffc800" stroke="#ff0000" stroke-width="1.2" stroke-linejoin="miter"/>
<polygon points="419.52,104.45 421.82,108.35 417.22,108.35" fill="#ffc800" stroke="#ff0000" stroke-width="1.2" stroke-linejoin="miter"/>
<polygon points="434.10,110.75 436.40,114.65 431.80,114.65" fill="#ffc800" stroke="#ff0000" stroke-width="1.2" stroke-linejoin="miter"/>
<rect x="286.65" y="105.05" width="3.3" height="3.3" fill="#ffdd00" stroke="#ff0000" stroke-width="1.15"/>
<rect x="301.23" y="116.35" width="3.3" height="3.3" fill="#ffdd00" stroke="#ff0000" stroke-width="1.15"/>
<rect x="315.81" y="117.05" width="3.3" height="3.3" fill="#ffdd00" stroke="#ff0000" stroke-width="1.15"/>
<rect x="330.39" y="103.15" width="3.3" height="3.3" fill="#ffdd00" stroke="#ff0000" stroke-width="1.15"/>
<rect x="344.97" y="110.25" width="3.3" height="3.3" fill="#ffdd00" stroke="#ff0000" stroke-width="1.15"/>
<rect x="359.55" y="131.95" width="3.3" height="3.3" fill="#ffdd00" stroke="#ff0000" stroke-width="1.15"/>
<rect x="374.13" y="137.55" width="3.3" height="3.3" fill="#ffdd00" stroke="#ff0000" stroke-width="1.15"/>
<rect x="388.71" y="146.45" width="3.3" height="3.3" fill="#ffdd00" stroke="#ff0000" stroke-width="1.15"/>
<rect x="403.29" y="173.15" width="3.3" height="3.3" fill="#ffdd00" stroke="#ff0000" stroke-width="1.15"/>
<rect x="417.87" y="165.25" width="3.3" height="3.3" fill="#ffdd00" stroke="#ff0000" stroke-width="1.15"/>
<rect x="432.45" y="165.25" width="3.3" height="3.3" fill="#ffdd00" stroke="#ff0000" stroke-width="1.15"/>
<circle cx="288.30" cy="235.00" r="1.9" fill="#ffee00" stroke="#ff0000" stroke-width="1.15"/>
<circle cx="302.88" cy="223.70" r="1.9" fill="#ffee00" stroke="#ff0000" stroke-width="1.15"/>
<circle cx="317.46" cy="223.00" r="1.9" fill="#ffee00" stroke="#ff0000" stroke-width="1.15"/>
<circle cx="332.04" cy="237.00" r="1.9" fill="#ffee00" stroke="#ff0000" stroke-width="1.15"/>
<circle cx="346.62" cy="229.60" r="1.9" fill="#ffee00" stroke="#ff0000" stroke-width="1.15"/>
<circle cx="361.20" cy="208.10" r="1.9" fill="#ffee00" stroke="#ff0000" stroke-width="1.15"/>
<circle cx="375.78" cy="202.30" r="1.9" fill="#ffee00" stroke="#ff0000" stroke-width="1.15"/>
<circle cx="390.36" cy="193.60" r="1.9" fill="#ffee00" stroke="#ff0000" stroke-width="1.15"/>
<circle cx="404.94" cy="166.90" r="1.9" fill="#ffee00" stroke="#ff0000" stroke-width="1.15"/>
<circle cx="419.52" cy="174.80" r="1.9" fill="#ffee00" stroke="#ff0000" stroke-width="1.15"/>
<circle cx="434.10" cy="174.80" r="1.9" fill="#ffee00" stroke="#ff0000" stroke-width="1.15"/>
<text x="488.20" y="12.90" font-size="17.5" text-anchor="start" font-family='"Liberation Sans", sans-serif'  >(c)</text>
<text transform="translate(477.6,147) rotate(-90)" font-size="13.4" text-anchor="middle" stroke="#111" stroke-width="0.3" font-family='"Liberation Sans", sans-serif'>Relative thickness (Å)</text>
<defs><linearGradient id="gr" x1="0" y1="0" x2="0" y2="1"><stop offset="0" stop-color="#ffee00"/><stop offset="1" stop-color="#ff0000"/></linearGradient><linearGradient id="gg" x1="0" y1="0" x2="0" y2="1"><stop offset="0" stop-color="#8ee48e"/><stop offset="1" stop-color="#006e10"/></linearGradient></defs>
<rect x="518.50" y="132.00" width="11.8" height="15.85" fill="url(#gr)"/>
<rect x="533.07" y="126.00" width="11.8" height="21.85" fill="url(#gr)"/>
<rect x="547.64" y="130.20" width="11.8" height="17.65" fill="url(#gr)"/>
<rect x="562.21" y="121.20" width="11.8" height="26.65" fill="url(#gr)"/>
<rect x="576.78" y="126.70" width="11.8" height="21.15" fill="url(#gr)"/>
<rect x="591.35" y="111.00" width="11.8" height="36.85" fill="url(#gr)"/>
<rect x="605.92" y="121.70" width="11.8" height="26.15" fill="url(#gr)"/>
<rect x="620.49" y="98.30" width="11.8" height="49.55" fill="url(#gr)"/>
<rect x="635.06" y="74.50" width="11.8" height="73.35" fill="url(#gr)"/>
<rect x="649.63" y="57.00" width="11.8" height="90.85" fill="url(#gr)"/>
<rect x="664.20" y="63.00" width="11.8" height="84.85" fill="url(#gr)"/>
<rect x="518.50" y="147.85" width="11.8" height="66.65" fill="url(#gg)"/>
<rect x="533.07" y="147.85" width="11.8" height="23.65" fill="url(#gg)"/>
<rect x="547.64" y="147.85" width="11.8" height="73.65" fill="url(#gg)"/>
<rect x="562.21" y="147.85" width="11.8" height="79.85" fill="url(#gg)"/>
<rect x="576.78" y="147.85" width="11.8" height="96.75" fill="url(#gg)"/>
<rect x="591.35" y="147.85" width="11.8" height="35.55" fill="url(#gg)"/>
<rect x="605.92" y="147.85" width="11.8" height="69.85" fill="url(#gg)"/>
<rect x="620.49" y="147.85" width="11.8" height="39.95" fill="url(#gg)"/>
<rect x="635.06" y="147.85" width="11.8" height="8.45" fill="url(#gg)"/>
<rect x="649.63" y="146.00" width="11.8" height="1.85" fill="url(#gg)"/>
<rect x="664.20" y="144.00" width="11.8" height="3.85" fill="url(#gg)"/>
<line x1="509.80" y1="148.00" x2="684.30" y2="148.00" stroke="#111" stroke-width="1.2" stroke-dasharray="2.6,1.4"/>
<line x1="509.80" y1="34.10" x2="684.30" y2="34.10" stroke="#2b2b2b" stroke-width="1.3" />
<line x1="684.30" y1="33.45" x2="684.30" y2="262.25" stroke="#2b2b2b" stroke-width="1.3" />
<line x1="509.15" y1="261.60" x2="684.30" y2="261.60" stroke="#2b2b2b" stroke-width="1.3" />
<line x1="509.80" y1="33.45" x2="509.80" y2="262.25" stroke="#2b2b2b" stroke-width="1.3" />
<line x1="509.80" y1="34.10" x2="518.50" y2="34.10" stroke="#2b2b2b" stroke-width="1.2" />
<text x="506.60" y="37.60" font-size="10" text-anchor="end" stroke="#111" stroke-width="0.2" font-family='"Liberation Sans", sans-serif'>0.5</text>
<line x1="509.80" y1="45.47" x2="514.10" y2="45.47" stroke="#2b2b2b" stroke-width="1.2" />
<line x1="509.80" y1="56.85" x2="518.50" y2="56.85" stroke="#2b2b2b" stroke-width="1.2" />
<text x="506.60" y="60.35" font-size="10" text-anchor="end" stroke="#111" stroke-width="0.2" font-family='"Liberation Sans", sans-serif'>0.4</text>
<line x1="509.80" y1="68.22" x2="514.10" y2="68.22" stroke="#2b2b2b" stroke-width="1.2" />
<line x1="509.80" y1="79.60" x2="518.50" y2="79.60" stroke="#2b2b2b" stroke-width="1.2" />
<text x="506.60" y="83.10" font-size="10" text-anchor="end" stroke="#111" stroke-width="0.2" font-family='"Liberation Sans", sans-serif'>0.3</text>
<line x1="509.80" y1="90.97" x2="514.10" y2="90.97" stroke="#2b2b2b" stroke-width="1.2" />
<line x1="509.80" y1="102.35" x2="518.50" y2="102.35" stroke="#2b2b2b" stroke-width="1.2" />
<text x="506.60" y="105.85" font-size="10" text-anchor="end" stroke="#111" stroke-width="0.2" font-family='"Liberation Sans", sans-serif'>0.2</text>
<line x1="509.80" y1="113.72" x2="514.10" y2="113.72" stroke="#2b2b2b" stroke-width="1.2" />
<line x1="509.80" y1="125.10" x2="518.50" y2="125.10" stroke="#2b2b2b" stroke-width="1.2" />
<text x="506.60" y="128.60" font-size="10" text-anchor="end" stroke="#111" stroke-width="0.2" font-family='"Liberation Sans", sans-serif'>0.1</text>
<line x1="509.80" y1="136.47" x2="514.10" y2="136.47" stroke="#2b2b2b" stroke-width="1.2" />
<line x1="509.80" y1="147.85" x2="518.50" y2="147.85" stroke="#2b2b2b" stroke-width="1.2" />
<text x="506.60" y="151.35" font-size="10" text-anchor="end" stroke="#111" stroke-width="0.2" font-family='"Liberation Sans", sans-serif'>0.0</text>
<line x1="509.80" y1="159.22" x2="514.10" y2="159.22" stroke="#2b2b2b" stroke-width="1.2" />
<line x1="509.80" y1="170.60" x2="518.50" y2="170.60" stroke="#2b2b2b" stroke-width="1.2" />
<text x="506.60" y="174.10" font-size="10" text-anchor="end" stroke="#111" stroke-width="0.2" font-family='"Liberation Sans", sans-serif'>-0.1</text>
<line x1="509.80" y1="181.97" x2="514.10" y2="181.97" stroke="#2b2b2b" stroke-width="1.2" />
<line x1="509.80" y1="193.35" x2="518.50" y2="193.35" stroke="#2b2b2b" stroke-width="1.2" />
<text x="506.60" y="196.85" font-size="10" text-anchor="end" stroke="#111" stroke-width="0.2" font-family='"Liberation Sans", sans-serif'>-0.2</text>
<line x1="509.80" y1="204.72" x2="514.10" y2="204.72" stroke="#2b2b2b" stroke-width="1.2" />
<line x1="509.80" y1="216.10" x2="518.50" y2="216.10" stroke="#2b2b2b" stroke-width="1.2" />
<text x="506.60" y="219.60" font-size="10" text-anchor="end" stroke="#111" stroke-width="0.2" font-family='"Liberation Sans", sans-serif'>-0.3</text>
<line x1="509.80" y1="227.48" x2="514.10" y2="227.48" stroke="#2b2b2b" stroke-width="1.2" />
<line x1="509.80" y1="238.85" x2="518.50" y2="238.85" stroke="#2b2b2b" stroke-width="1.2" />
<text x="506.60" y="242.35" font-size="10" text-anchor="end" stroke="#111" stroke-width="0.2" font-family='"Liberation Sans", sans-serif'>-0.4</text>
<line x1="509.80" y1="250.23" x2="514.10" y2="250.23" stroke="#2b2b2b" stroke-width="1.2" />
<line x1="509.80" y1="261.60" x2="518.50" y2="261.60" stroke="#2b2b2b" stroke-width="1.2" />
<text x="506.60" y="265.10" font-size="10" text-anchor="end" stroke="#111" stroke-width="0.2" font-family='"Liberation Sans", sans-serif'>-0.5</text>
<line x1="524.40" y1="261.60" x2="524.40" y2="253.40" stroke="#2b2b2b" stroke-width="1.2" />
<line x1="538.97" y1="261.60" x2="538.97" y2="253.40" stroke="#2b2b2b" stroke-width="1.2" />
<line x1="553.54" y1="261.60" x2="553.54" y2="253.40" stroke="#2b2b2b" stroke-width="1.2" />
<line x1="568.11" y1="261.60" x2="568.11" y2="253.40" stroke="#2b2b2b" stroke-width="1.2" />
<line x1="582.68" y1="261.60" x2="582.68" y2="253.40" stroke="#2b2b2b" stroke-width="1.2" />
<line x1="597.25" y1="261.60" x2="597.25" y2="253.40" stroke="#2b2b2b" stroke-width="1.2" />
<line x1="611.82" y1="261.60" x2="611.82" y2="253.40" stroke="#2b2b2b" stroke-width="1.2" />
<line x1="626.39" y1="261.60" x2="626.39" y2="253.40" stroke="#2b2b2b" stroke-width="1.2" />
<line x1="640.96" y1="261.60" x2="640.96" y2="253.40" stroke="#2b2b2b" stroke-width="1.2" />
<line x1="655.53" y1="261.60" x2="655.53" y2="253.40" stroke="#2b2b2b" stroke-width="1.2" />
<line x1="670.10" y1="261.60" x2="670.10" y2="253.40" stroke="#2b2b2b" stroke-width="1.2" />
<text transform="translate(526.50,268.85) rotate(-57)" font-size="8.5" text-anchor="end" fill="#000" stroke="#000" stroke-width="0.3" font-family='"Liberation Sans", sans-serif'>Ti<tspan font-size="6.12" dy="2.72">2</tspan><tspan dy="-2.72">N</tspan></text>
<text transform="translate(542.47,269.55) rotate(-57)" font-size="8.5" text-anchor="end" fill="#000" stroke="#000" stroke-width="0.3" font-family='"Liberation Sans", sans-serif'>Ti<tspan font-size="6.12" dy="2.72">2</tspan><tspan dy="-2.72">C</tspan></text>
<text transform="translate(558.49,269.55) rotate(-57)" font-size="8.5" text-anchor="end" fill="#000" stroke="#000" stroke-width="0.3" font-family='"Liberation Sans", sans-serif'>V<tspan font-size="6.12" dy="2.72">2</tspan><tspan dy="-2.72">C</tspan></text>
<text transform="translate(574.56,269.45) rotate(-57)" font-size="8.5" text-anchor="end" fill="#000" stroke="#000" stroke-width="0.3" font-family='"Liberation Sans", sans-serif'>Nb<tspan font-size="6.12" dy="2.72">2</tspan><tspan dy="-2.72">C</tspan></text>
<text transform="translate(588.23,269.55) rotate(-57)" font-size="8.5" text-anchor="end" fill="#000" stroke="#000" stroke-width="0.3" font-family='"Liberation Sans", sans-serif'>Ta<tspan font-size="6.12" dy="2.72">2</tspan><tspan dy="-2.72">C</tspan></text>
<text transform="translate(602.85,266.35) rotate(-57)" font-size="8.5" text-anchor="end" fill="#000" stroke="#000" stroke-width="0.3" font-family='"Liberation Sans", sans-serif'>Ti<tspan font-size="6.12" dy="2.72">3</tspan><tspan dy="-2.72">C</tspan><tspan font-size="6.12" dy="2.72">2</tspan></text>
<text transform="translate(617.87,266.35) rotate(-57)" font-size="8.5" text-anchor="end" fill="#000" stroke="#000" stroke-width="0.3" font-family='"Liberation Sans", sans-serif'>Ti<tspan font-size="6.12" dy="2.72">4</tspan><tspan dy="-2.72">C</tspan><tspan font-size="6.12" dy="2.72">3</tspan></text>
<text transform="translate(631.94,267.05) rotate(-57)" font-size="8.5" text-anchor="end" fill="#000" stroke="#000" stroke-width="0.3" font-family='"Liberation Sans", sans-serif'>Ti<tspan font-size="6.12" dy="2.72">4</tspan><tspan dy="-2.72">N</tspan><tspan font-size="6.12" dy="2.72">3</tspan></text>
<text transform="translate(647.41,266.90) rotate(-57)" font-size="8.5" text-anchor="end" fill="#000" stroke="#000" stroke-width="0.3" font-family='"Liberation Sans", sans-serif'>V<tspan font-size="6.12" dy="2.72">4</tspan><tspan dy="-2.72">C</tspan><tspan font-size="6.12" dy="2.72">3</tspan></text>
<text transform="translate(661.83,267.20) rotate(-57)" font-size="8.5" text-anchor="end" fill="#000" stroke="#000" stroke-width="0.3" font-family='"Liberation Sans", sans-serif'>Nb<tspan font-size="6.12" dy="2.72">4</tspan><tspan dy="-2.72">C</tspan><tspan font-size="6.12" dy="2.72">3</tspan></text>
<text transform="translate(677.55,266.10) rotate(-57)" font-size="8.5" text-anchor="end" fill="#000" stroke="#000" stroke-width="0.3" font-family='"Liberation Sans", sans-serif'>Ta<tspan font-size="6.12" dy="2.72">4</tspan><tspan dy="-2.72">C</tspan><tspan font-size="6.12" dy="2.72">3</tspan></text>
<text x="540.60" y="52.00" font-size="11.5" text-anchor="start" font-family='"Liberation Sans", sans-serif'  >BO<tspan font-size="7.5" dy="3">2</tspan><tspan dy="-3">-MXenes</tspan></text>
<rect x="525.1" y="62.1" width="10.9" height="10.5" fill="url(#gg)"/>
<text x="540.60" y="71.40" font-size="11.5" text-anchor="start" font-family='"Liberation Sans", sans-serif'  >Cl-MXenes</text>
</g>
</svg>
</body></html>
